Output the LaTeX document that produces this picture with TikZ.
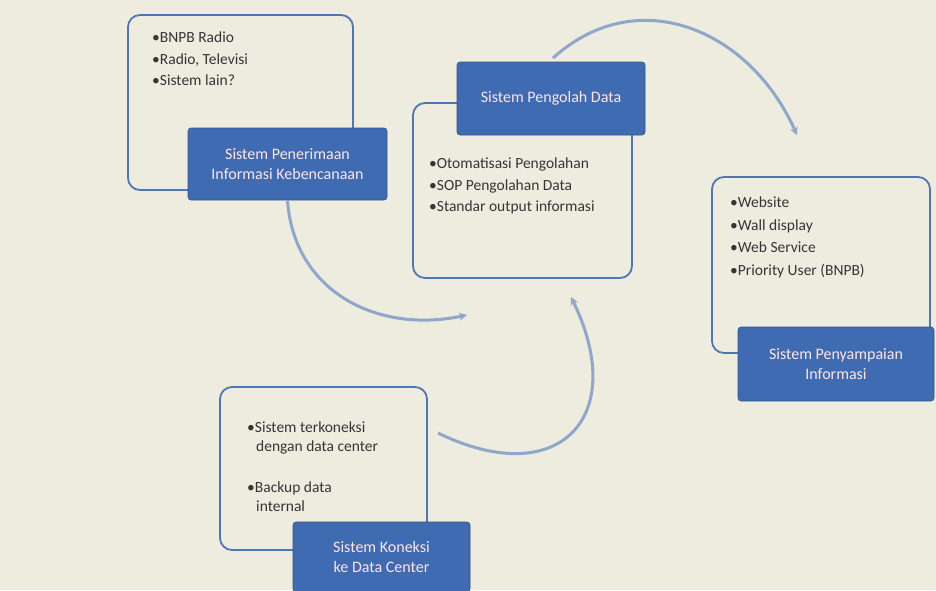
\documentclass[tikz,border=0pt]{standalone}
\usepackage{fontspec}
\setmainfont{Carlito}
\usetikzlibrary{arrows.meta}
\definecolor{paper}{HTML}{EEEBDF}
\definecolor{framecol}{HTML}{4F77B6}
\definecolor{titlecol}{HTML}{3F6BB2}
\definecolor{flowcol}{HTML}{8EA7CB}
\definecolor{inkcol}{HTML}{353535}
\begin{document}
\begin{tikzpicture}[
    x=1pt, y=-1pt,
    frame/.style={rectangle, rounded corners=12pt, draw=framecol, line width=1.8pt},
    title/.style={rectangle, rounded corners=3pt, fill=titlecol, draw=titlecol!80!black, line width=0.6pt,
        text=white!90!red, align=center, font=\fontsize{16}{20}\selectfont},
    list/.style={anchor=north west, align=left, text=inkcol, inner sep=0pt, font=\fontsize{15.5}{21.5}\selectfont},
    flow/.style={-{Stealth[length=8pt, width=8pt]}, line width=3pt, flowcol}
]
    \fill[paper] (0,0) rectangle (936,590);
    \useasboundingbox (0,0) rectangle (936,590);

    % Frames using absolute coordinates (pixels of the page)
    \node[frame, minimum width=225, minimum height=175] (frameA) at (240.5,102.5) {};
    \node[frame, minimum width=219, minimum height=175] (frameB) at (522.5,190.5) {};
    \node[frame, minimum width=218, minimum height=176] (frameC) at (821,265) {};
    \node[frame, minimum width=207, minimum height=163] (frameD) at (323.5,468.5) {};

    % Title boxes
    \node[title, minimum width=199, minimum height=72] (titleA) at (287.5,164) {Sistem Penerimaan\\Informasi Kebencanaan};
    \node[title, minimum width=188, minimum height=73] (titleB) at (551,98.5) {Sistem Pengolah Data};
    \node[title, minimum width=196, minimum height=74] (titleC) at (836,364) {Sistem Penyampaian\\Informasi};
    \node[title, minimum width=177, minimum height=70] (titleD) at (381.5,557) {Sistem Koneksi\\ke Data Center};

    % Bullet lists
    \node[list] (listA) at (152,32) {•BNPB Radio\\•Radio, Televisi\\•Sistem lain?};
    \node[list] (listB) at (429,158) {•Otomatisasi Pengolahan\\•SOP Pengolahan Data\\•Standar output informasi};
    \node[list, font=\fontsize{15.5}{22.5}\selectfont] (listC) at (730,197) {•Website\\•Wall display\\•Web Service\\•Priority User (BNPB)};
    \node[list, font=\fontsize{15.5}{19}\selectfont] (listD) at (247,422) {•Sistem terkoneksi\\\hspace*{9pt}dengan data center\\[22pt]•Backup data\\\hspace*{9pt}internal};

    % Free ends of the flows
    \coordinate (startB) at (553,58);
    \coordinate (endC) at (797,135);
    \coordinate (endB1) at (467,315);
    \coordinate (startD) at (438,433);
    \coordinate (endB2) at (571,297);

    % Flows
    \draw[flow] (startB) to[out=42, in=114, looseness=1.15] (endC);
    \draw[flow] (titleA.south) to[out=-86, in=192, looseness=1.1] (endB1);
    \draw[flow] (startD) to[out=-26, in=-64, looseness=1.8] (endB2);
\end{tikzpicture}
\end{document}
